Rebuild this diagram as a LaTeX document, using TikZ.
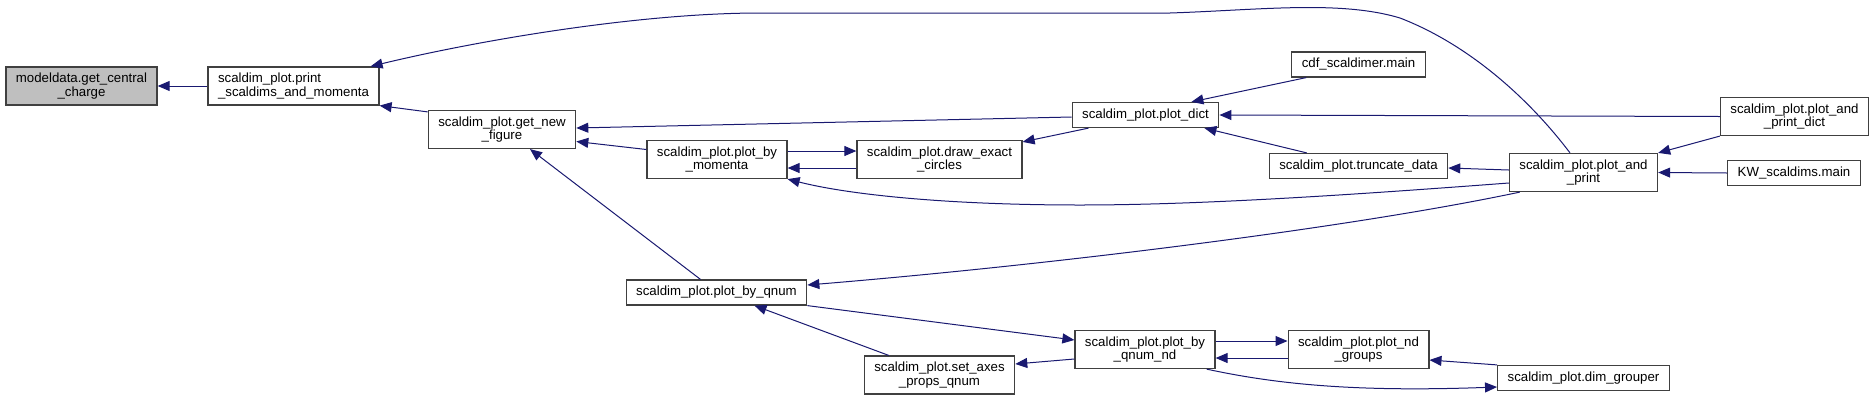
\documentclass[tikz,border=0pt]{standalone}
\usepackage{fontspec}
\setmainfont{Liberation Sans}
\usetikzlibrary{arrows.meta}
\definecolor{edgeblue}{HTML}{191970}
\definecolor{boxgray}{HTML}{BFBFBF}

\begin{document}
\begin{tikzpicture}[x=1pt, y=-1pt,
  func/.style={draw=black!75, line width=1.2pt, fill=white, align=center,
    font=\fontsize{13.25}{13.3}\selectfont, inner xsep=10pt, inner ysep=2pt, minimum height=25pt},
  twoline/.style={minimum height=38pt},
  call/.style={draw=edgeblue, line width=1pt, -{Triangle[length=12pt,width=10pt]}}]
  \useasboundingbox (0,0) rectangle (1875,400);

  % functions
  \node[func, twoline, fill=boxgray] (central_charge) at (81.5,86) {modeldata.get\_central\\\_charge};
  \node[func, twoline, align=left] (print_sm) at (293.5,86) {scaldim\_plot.print\\\_scaldims\_and\_momenta};
  \node[func, twoline] (new_figure) at (502,129.5) {scaldim\_plot.get\_new\\\_figure};
  \node[func, twoline] (by_momenta) at (717,159.5) {scaldim\_plot.plot\_by\\\_momenta};
  \node[func, twoline] (exact_circles) at (939.5,159.5) {scaldim\_plot.draw\_exact\\\_circles};
  \node[func] (plot_dict) at (1145.5,115) {scaldim\_plot.plot\_dict};
  \node[func] (cdf_main) at (1358.5,64.5) {cdf\_scaldimer.main};
  \node[func, twoline] (pp_dict) at (1794.5,116.5) {scaldim\_plot.plot\_and\\\_print\_dict};
  \node[func] (truncate) at (1358.5,166) {scaldim\_plot.truncate\_data};
  \node[func, twoline] (plot_print) at (1583.5,172.5) {scaldim\_plot.plot\_and\\\_print};
  \node[func] (kw_main) at (1794,173) {KW\_scaldims.main};
  \node[func] (by_qnum) at (716.5,292.5) {scaldim\_plot.plot\_by\_qnum};
  \node[func, twoline] (axes_props) at (939.5,375) {scaldim\_plot.set\_axes\\\_props\_qnum};
  \node[func, twoline] (qnum_nd) at (1145,349.5) {scaldim\_plot.plot\_by\\\_qnum\_nd};
  \node[func, twoline] (nd_groups) at (1358.5,349.5) {scaldim\_plot.plot\_nd\\\_groups};
  \node[func] (grouper) at (1583.5,378) {scaldim\_plot.dim\_grouper};

  % upper calls
  \draw[call] (print_sm.west) -- (central_charge.east);
  \draw[call] ([yshift=-2pt]new_figure.north west) -- (print_sm.south east);
  \draw[call] ([xshift=-13.5pt]plot_print.north) .. controls (1530,100) and (1470,45) .. (1400,18)
    .. controls (1340,0) and (1260,10) .. (1170,13) -- (760,13)
    .. controls (640,13) and (480,40) .. ([xshift=-9pt]print_sm.north east);
  \draw[call] ([yshift=-2pt]plot_dict.west) -- ([yshift=1.5pt]new_figure.east);
  \draw[call] ([yshift=10pt]by_momenta.west) -- ([yshift=-12pt]new_figure.east);
  \draw[call] ([xshift=-16pt]by_qnum.north) -- ([xshift=28pt]new_figure.south);
  \draw[call] ([yshift=8.5pt]by_momenta.east) -- ([yshift=8.5pt]exact_circles.west);
  \draw[call] ([yshift=-8.5pt]exact_circles.west) -- ([yshift=-8.5pt]by_momenta.east);
  \draw[call] ([xshift=17pt]plot_dict.south west) -- ([yshift=-2pt]exact_circles.north east);
  \draw[call] ([yshift=-10.5pt]plot_print.west) .. controls (1350,195) and (1200,205) .. (1080,205)
    .. controls (950,205) and (850,195) .. (by_momenta.south east);
  \draw[call] ([xshift=15pt]cdf_main.south west) -- ([xshift=-28pt]plot_dict.north east);
  \draw[call] (pp_dict.west) -- (plot_dict.east);
  \draw[call] ([xshift=38pt]truncate.north west) -- ([xshift=-15pt]plot_dict.south east);
  \draw[call] ([yshift=2.5pt]plot_print.west) -- ([yshift=-2pt]truncate.east);
  \draw[call] (pp_dict.south west) -- (plot_print.north east);
  \draw[call] (kw_main.west) -- (plot_print.east);

  % lower calls
  \draw[call] ([xshift=11pt]plot_print.south west) .. controls (1350,228) and (1050,265) .. ([yshift=7.5pt]by_qnum.east);
  \draw[call] (by_qnum.south east) -- ([yshift=9.5pt]qnum_nd.west);
  \draw[call] ([xshift=25pt]axes_props.north west) -- ([xshift=38pt]by_qnum.south);
  \draw[call] ([yshift=-9.5pt]qnum_nd.west) -- ([yshift=11pt]axes_props.east);
  \draw[call] ([yshift=8.5pt]qnum_nd.east) -- ([yshift=8.5pt]nd_groups.west);
  \draw[call] ([yshift=-8.5pt]nd_groups.west) -- ([yshift=-8.5pt]qnum_nd.east);
  \draw[call] (grouper.north west) -- ([yshift=-10.5pt]nd_groups.east);
  \draw[call] ([xshift=-9pt]qnum_nd.south east) .. controls (1280,385) and (1360,392) .. ([yshift=-9pt]grouper.west);
\end{tikzpicture}
\end{document}
